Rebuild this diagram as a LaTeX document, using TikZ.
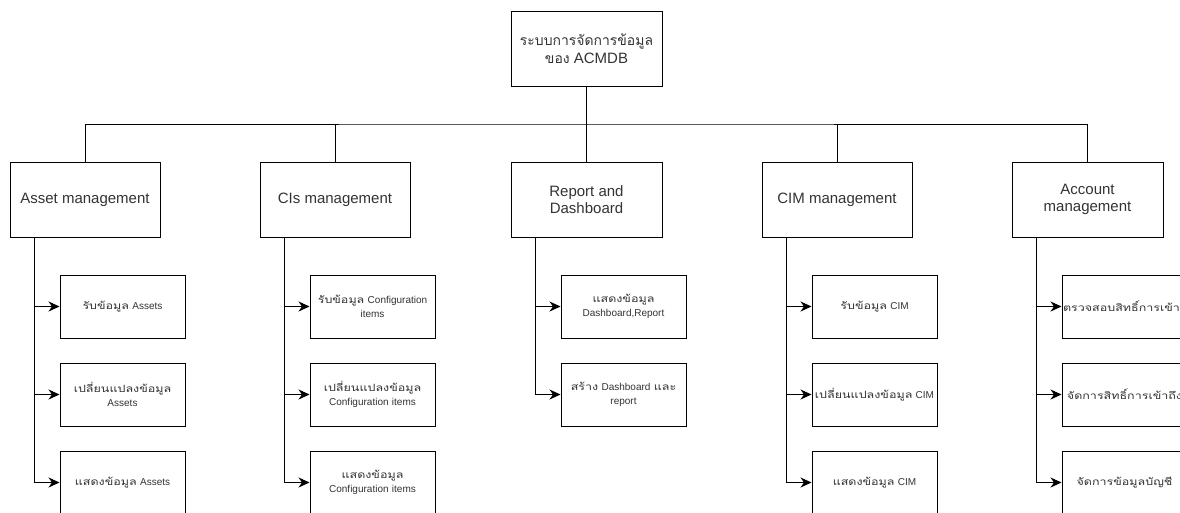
\documentclass[tikz,border=0pt]{standalone}
\usepackage{fontspec}
\setmainfont{Liberation Sans}
\newfontfamily\thaifont[Script=Thai, Scale=0.93]{Loma}
\newfontfamily\thaitask[Script=Thai, Scale=1.0, FakeStretch=1.25]{Loma}
\usetikzlibrary{arrows.meta}

\begin{document}
\begin{tikzpicture}[x=1pt, y=1pt, line width=1pt,
	nodes={text=black!80, align=center},
	topbox/.style={draw, minimum width=151pt, minimum height=75pt, inner sep=1pt,
		font=\fontsize{15}{17.5}\selectfont},
	taskbox/.style={draw, text width=123pt, minimum height=63pt, inner sep=1pt,
		font=\fontsize{10}{14.5}\selectfont},
	link/.style={-{Stealth[length=11pt, width=10pt, inset=3.5pt]}}]

	\clip (0,0) rectangle (1180,-512);
	\fill[white] (0,0) rectangle (1180,-512);

	% root
	\node[topbox] (root) at (586.5,-48.5) {{\thaifont ระบบการจัดการข้อมูล}\\{\thaifont ของ} ACMDB};
	\coordinate (bus) at (586.5,-124);

	% groups
	\node[topbox, minimum width=150pt] (asset)   at (85,-199.5)    {Asset management};
	\node[topbox, minimum width=150pt] (cis)     at (335,-199.5)   {CIs management};
	\node[topbox] (report)  at (586.5,-199.5) {Report and\\Dashboard};
	\node[topbox, minimum width=150pt] (cim)     at (837,-199.5)   {CIM management};
	\node[topbox] (account) at (1087.5,-199.5) {Account\\management};

	% tasks
	\node[taskbox] (asset1) at (122.5,-306.5) {{\thaitask รับข้อมูล} Assets};
	\node[taskbox] (asset2) at (122.5,-394.5) {{\thaitask เปลี่ยนแปลงข้อมูล}\\Assets};
	\node[taskbox] (asset3) at (122.5,-482.5) {{\thaitask แสดงข้อมูล} Assets};

	\node[taskbox] (cis1) at (372.5,-306.5) {{\thaitask รับข้อมูล} Configuration\\items};
	\node[taskbox] (cis2) at (372.5,-394.5) {{\thaitask เปลี่ยนแปลงข้อมูล}\\Configuration items};
	\node[taskbox] (cis3) at (372.5,-482.5) {{\thaitask แสดงข้อมูล}\\Configuration items};

	\node[taskbox] (report1) at (623.5,-306.5) {{\thaitask แสดงข้อมูล}\\Dashboard,Report};
	\node[taskbox] (report2) at (623.5,-394.5) {{\thaitask สร้าง} Dashboard {\thaitask และ}\\report};

	\node[taskbox] (cim1) at (874.5,-306.5) {{\thaitask รับข้อมูล} CIM};
	\node[taskbox] (cim2) at (874.5,-394.5) {{\thaitask เปลี่ยนแปลงข้อมูล} CIM};
	\node[taskbox] (cim3) at (874.5,-482.5) {{\thaitask แสดงข้อมูล} CIM};

	\node[taskbox] (account1) at (1124.5,-306.5) {\thaitask ตรวจสอบสิทธิ์การเข้าถึง};
	\node[taskbox] (account2) at (1124.5,-394.5) {\thaitask จัดการสิทธิ์การเข้าถึง};
	\node[taskbox] (account3) at (1124.5,-482.5) {\thaitask จัดการข้อมูลบัญชี};

	% bus
	\draw (root) -- (bus);
	\draw (asset.north) |- (bus) -| (account.north);
	\draw (cis.north) -- (cis.north |- bus);
	\draw (report.north) -- (bus);
	\draw (cim.north) -- (cim.north |- bus);

	% trunks
	\draw[link] ([xshift=25pt]asset.south west) |- (asset1.west);
	\draw[link] ([xshift=25pt]asset.south west) |- (asset2.west);
	\draw[link] ([xshift=25pt]asset.south west) |- (asset3.west);
	\draw[link] ([xshift=25pt]cis.south west) |- (cis1.west);
	\draw[link] ([xshift=25pt]cis.south west) |- (cis2.west);
	\draw[link] ([xshift=25pt]cis.south west) |- (cis3.west);
	\draw[link] ([xshift=25pt]report.south west) |- (report1.west);
	\draw[link] ([xshift=25pt]report.south west) |- (report2.west);
	\draw[link] ([xshift=25pt]cim.south west) |- (cim1.west);
	\draw[link] ([xshift=25pt]cim.south west) |- (cim2.west);
	\draw[link] ([xshift=25pt]cim.south west) |- (cim3.west);
	\draw[link] ([xshift=25pt]account.south west) |- (account1.west);
	\draw[link] ([xshift=25pt]account.south west) |- (account2.west);
	\draw[link] ([xshift=25pt]account.south west) |- (account3.west);
\end{tikzpicture}
\end{document}
